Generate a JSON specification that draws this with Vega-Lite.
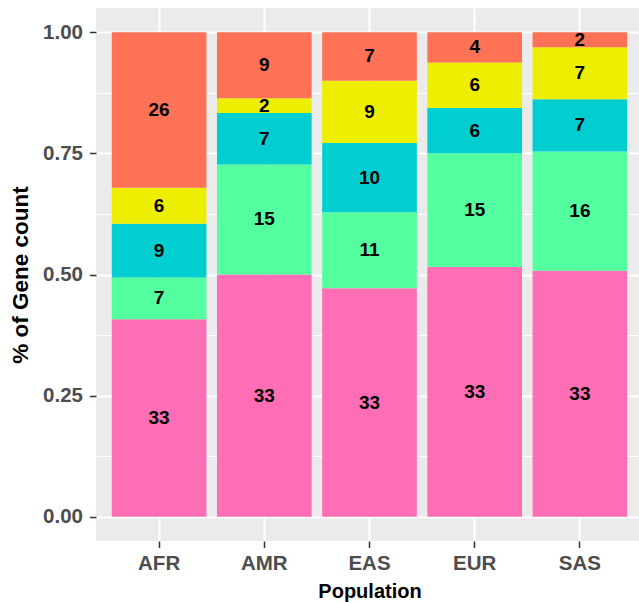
{
  "$schema": "https://vega.github.io/schema/vega-lite/v6.json",
  "autosize": "none",
  "width": 547,
  "height": 533,
  "padding": {"left": 96, "top": 8, "right": 0, "bottom": 62},
  "background": "white",
  "config": {
    "view": {"fill": "#EBEBEB", "stroke": null},
    "font": "Liberation Sans",
    "axis": {
      "domain": false,
      "gridColor": "white",
      "tickColor": "#333333",
      "tickWidth": 1.5,
      "tickSize": 6.5,
      "labelColor": "#4D4D4D",
      "labelFont": "Liberation Sans",
      "labelFontWeight": "bold",
      "labelFontSize": 20.5,
      "titleFont": "Liberation Sans",
      "titleFontWeight": "bold",
      "titleFontSize": 20,
      "titleColor": "black"
    }
  },
  "data": {
    "values": [
      {"pop": "AFR", "grp": "g1", "n": 33},
      {"pop": "AFR", "grp": "g2", "n": 7},
      {"pop": "AFR", "grp": "g3", "n": 9},
      {"pop": "AFR", "grp": "g4", "n": 6},
      {"pop": "AFR", "grp": "g5", "n": 26},
      {"pop": "AMR", "grp": "g1", "n": 33},
      {"pop": "AMR", "grp": "g2", "n": 15},
      {"pop": "AMR", "grp": "g3", "n": 7},
      {"pop": "AMR", "grp": "g4", "n": 2},
      {"pop": "AMR", "grp": "g5", "n": 9},
      {"pop": "EAS", "grp": "g1", "n": 33},
      {"pop": "EAS", "grp": "g2", "n": 11},
      {"pop": "EAS", "grp": "g3", "n": 10},
      {"pop": "EAS", "grp": "g4", "n": 9},
      {"pop": "EAS", "grp": "g5", "n": 7},
      {"pop": "EUR", "grp": "g1", "n": 33},
      {"pop": "EUR", "grp": "g2", "n": 15},
      {"pop": "EUR", "grp": "g3", "n": 6},
      {"pop": "EUR", "grp": "g4", "n": 6},
      {"pop": "EUR", "grp": "g5", "n": 4},
      {"pop": "SAS", "grp": "g1", "n": 33},
      {"pop": "SAS", "grp": "g2", "n": 16},
      {"pop": "SAS", "grp": "g3", "n": 7},
      {"pop": "SAS", "grp": "g4", "n": 7},
      {"pop": "SAS", "grp": "g5", "n": 2}
    ]
  },
  "encoding": {
    "x": {
      "field": "pop",
      "type": "nominal",
      "title": "Population",
      "scale": {"paddingInner": 0.1, "paddingOuter": 0.15},
      "axis": {"labelAngle": 0, "gridWidth": 2, "grid": true, "labelPadding": 5.5, "titlePadding": 8}
    }
  },
  "layer": [
    {
      "mark": {"type": "bar"},
      "encoding": {
        "y": {
          "field": "n",
          "type": "quantitative",
          "stack": "normalize",
          "title": "% of Gene count",
          "scale": {"domain": [-0.05, 1.05], "nice": false, "zero": false},
          "axis": {
            "values": [0, 0.125, 0.25, 0.375, 0.5, 0.625, 0.75, 0.875, 1],
            "labelExpr": "datum.value % 0.25 === 0 ? format(datum.value, '.2f') : ''",
            "gridWidth": {"condition": {"test": "datum.value % 0.25 === 0", "value": 2}, "value": 1},
            "tickOpacity": {"condition": {"test": "datum.value % 0.25 === 0", "value": 1}, "value": 0},
            "labelPadding": 7,
            "titlePadding": 10,
            "titleFontSize": 22.5
          }
        },
        "color": {
          "field": "grp",
          "type": "nominal",
          "legend": null,
          "scale": {
            "domain": ["g1", "g2", "g3", "g4", "g5"],
            "range": ["#FF6EB4", "#54FF9F", "#00CED1", "#EEEE00", "#FF7256"]
          }
        },
        "order": {"field": "grp", "sort": "ascending"}
      }
    },
    {
      "transform": [
        {"stack": "n", "groupby": ["pop"], "sort": [{"field": "grp", "order": "ascending"}], "offset": "normalize", "as": ["y0", "y1"]},
        {"calculate": "(datum.y0 + datum.y1) / 2", "as": "ymid"}
      ],
      "mark": {"type": "text", "fontWeight": "bold", "fontSize": 19, "color": "black", "font": "Liberation Sans", "baseline": "middle", "align": "center"},
      "encoding": {
        "y": {"field": "ymid", "type": "quantitative"},
        "text": {"field": "n", "type": "quantitative"}
      }
    }
  ]
}
